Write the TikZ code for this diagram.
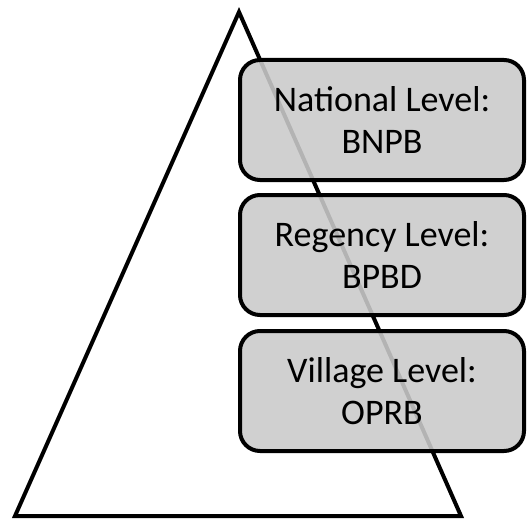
\documentclass[tikz,border=0pt]{standalone}
\usepackage{fontspec}
\setmainfont{Carlito}
\definecolor{boxgray}{RGB}{202,202,202}
\begin{document}
\begin{tikzpicture}[x=1pt,y=-1pt,
  level/.style={draw=black, line width=4pt, rounded corners=20pt,
    fill=boxgray, fill opacity=0.89, text opacity=1,
    minimum width=284pt, minimum height=120pt, inner sep=0pt,
    align=center, font=\fontsize{36}{42}\selectfont},
  tri/.style={draw=black, line width=4pt, line join=miter}]
\useasboundingbox (0,0) rectangle (527,519);
\coordinate (apex) at (239,12);
\coordinate (bl) at (15,516);
\coordinate (br) at (461,516);
\draw[tri] (apex) -- (bl) -- (br) -- cycle;
\node[level] (nat) at (382,120) {National Level:\\BNPB};
\node[level] (reg) at (382,255) {Regency Level:\\BPBD};
\node[level] (vil) at (382,391) {Village Level:\\OPRB};
\end{tikzpicture}
\end{document}
